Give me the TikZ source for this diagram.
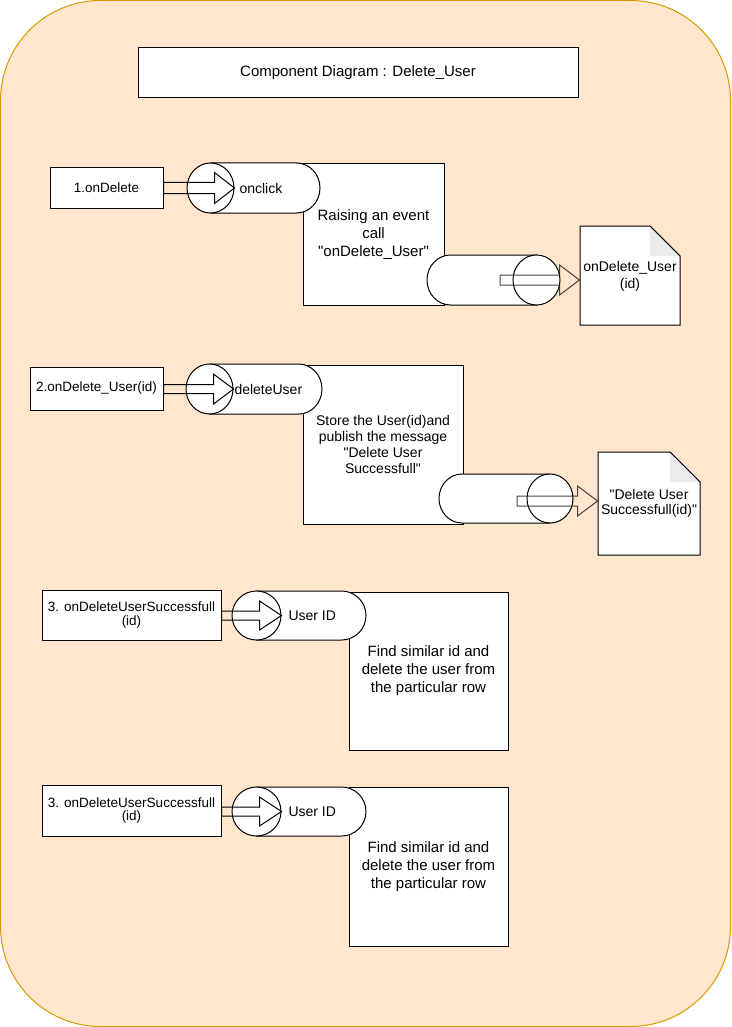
\documentclass[tikz,border=0pt]{standalone}
\usepackage{fontspec}
\setmainfont{Liberation Sans}[Ligatures=TeXOff]
\usetikzlibrary{calc,shapes.geometric}
\definecolor{panelfill}{HTML}{FFE6CC}
\definecolor{panelline}{HTML}{D79B00}
\definecolor{foldfill}{HTML}{EBEBEB}

% block arrow: style, start, tip, shaft half width, head half width, head length
\newcommand{\blockarr}[6]{%
  \draw[#1] ($(#2)+(0,#4)$) -- ($(#3)+(-#6,#4)$) -- ($(#3)+(-#6,#5)$) -- (#3)
    -- ($(#3)+(-#6,-#5)$) -- ($(#3)+(-#6,-#4)$) -- ($(#2)+(0,-#4)$) -- cycle;}

\begin{document}
\begin{tikzpicture}[x=1pt,y=-1pt,line width=1pt,
  box/.style={draw=black,fill=white,align=center,inner sep=2pt},
  cyl/.style={draw=black,fill=white},
  cylend/.style={ellipse,draw=black,fill=white,inner sep=0pt},
  whitearr/.style={draw=black,fill=none,line join=miter},
  greyarr/.style={draw=black,draw opacity=0.72,fill=none,line join=miter},
  doctext/.style={align=center,inner sep=0pt}]
\useasboundingbox (0,0) rectangle (731,1027);

% panel
\draw[fill=panelfill,draw=panelline,rounded corners=100pt] (0.5,0.5) rectangle (730.5,1026.5);

% title
\node[box,minimum width=440pt,minimum height=50pt,font=\fontsize{15}{18}\selectfont] (title) at (358,73) {Component Diagram : Delete\_User};

% ---------- step 1 ----------
\node[box,minimum width=141pt,minimum height=141pt,font=\fontsize{15}{18}\selectfont] (r1) at (373.5,234.5) {Raising an event\\call\\"onDelete\_User"};
\draw[cyl] (210.5,163) -- (296.5,163) arc[start angle=-90,end angle=90,x radius=23.5,y radius=25] -- (210.5,213) -- cycle;
\node[cylend,minimum width=47pt,minimum height=50pt] (c1e) at (210.5,188) {};
\node[anchor=west,inner sep=0pt,font=\fontsize{14}{16}\selectfont] (l1) at (239,188) {onclick};
\node[box,minimum width=113pt,minimum height=40pt,font=\fontsize{13.5}{14}\selectfont] (b1) at (106.5,188) {1.onDelete};
\blockarr{whitearr}{b1.east}{c1e.east}{5.5}{15.5}{20}

\draw[cyl] (536.5,255) -- (450.5,255) arc[start angle=-90,end angle=-270,x radius=23.5,y radius=25] -- (536.5,305) -- cycle;
\node[cylend,minimum width=47pt,minimum height=50pt] (c1f) at (536.5,280) {};

\draw[fill=white] (580,226) -- (650,226) -- (680,256) -- (680,325) -- (580,325) -- cycle;
\fill[foldfill] (650,226.5) -- (650,256) -- (679.5,256) -- cycle;
\draw (650,226) -- (680,256);
\node[doctext,minimum width=100pt,minimum height=99pt,font=\fontsize{14}{17}\selectfont] (d1) at (630,276) {onDelete\_User\\(id)};
\coordinate (g1) at (500,280);
\coordinate (g1t) at (g1 -| d1.west);
\blockarr{greyarr}{g1}{g1t}{5}{15}{20}

% ---------- step 2 ----------
\node[box,minimum width=160pt,minimum height=159pt,font=\fontsize{14}{15.7}\selectfont] (r2) at (383,444.5) {Store the User(id)and\\publish the message\\"Delete User\\Successfull"};
\draw[cyl] (209.5,364) -- (298.5,364) arc[start angle=-90,end angle=90,x radius=23.5,y radius=25] -- (209.5,414) -- cycle;
\node[cylend,minimum width=47pt,minimum height=50pt] (c2e) at (209.5,389) {};
\node[anchor=west,inner sep=0pt,font=\fontsize{14}{16}\selectfont] (l2) at (234,389) {deleteUser};
\node[box,minimum width=133pt,minimum height=43pt,font=\fontsize{13.5}{14}\selectfont] (b2) at (96.5,388.5) {2.onDelete\_User(id)};
\blockarr{whitearr}{b2.east |- c2e.east}{c2e.east}{4.5}{15}{20}

\draw[cyl] (550,474) -- (462,474) arc[start angle=-90,end angle=-270,x radius=23,y radius=24.5] -- (550,523) -- cycle;
\node[cylend,minimum width=46pt,minimum height=49pt] (c2f) at (550,498.5) {};

\draw[fill=white] (598,452) -- (670,452) -- (700,482) -- (700,555) -- (598,555) -- cycle;
\fill[foldfill] (670,452.5) -- (670,482) -- (699.5,482) -- cycle;
\draw (670,452) -- (700,482);
\node[doctext,minimum width=102pt,minimum height=103pt,font=\fontsize{14}{15}\selectfont] (d2) at (649,503.5) {"Delete User\\Successfull(id)"};
\coordinate (g2) at (517,501);
\coordinate (g2t) at (g2 -| d2.west);
\blockarr{greyarr}{g2}{g2t}{5}{15}{20}

% ---------- step 3 ----------
\node[box,minimum width=159pt,minimum height=158pt,font=\fontsize{15}{18}\selectfont] (r3) at (428.5,671) {Find similar id and\\delete the user from\\the particular row};
\draw[cyl] (256.5,591) -- (341.5,591) arc[start angle=-90,end angle=90,x radius=24.5,y radius=24.5] -- (256.5,640) -- cycle;
\node[cylend,minimum width=49pt,minimum height=49pt] (c3e) at (256.5,615.5) {};
\node[anchor=west,inner sep=0pt,font=\fontsize{14}{16}\selectfont] (l3) at (288,615.5) {User ID};
\node[box,minimum width=179pt,minimum height=50pt,font=\fontsize{13.5}{13.5}\selectfont] (b3) at (131.5,615) {3. onDeleteUserSuccessfull\\(id)};
\blockarr{whitearr}{b3.east |- c3e.east}{c3e.east}{4.5}{14.5}{22}

% ---------- step 3 (repeated) ----------
\node[box,minimum width=159pt,minimum height=159pt,font=\fontsize{15}{18}\selectfont] (r4) at (428.5,866.5) {Find similar id and\\delete the user from\\the particular row};
\draw[cyl] (256.5,787) -- (341.5,787) arc[start angle=-90,end angle=90,x radius=24.5,y radius=24.5] -- (256.5,836) -- cycle;
\node[cylend,minimum width=49pt,minimum height=49pt] (c4e) at (256.5,811.5) {};
\node[anchor=west,inner sep=0pt,font=\fontsize{14}{16}\selectfont] (l4) at (288,811.5) {User ID};
\node[box,minimum width=179pt,minimum height=51pt,font=\fontsize{13.5}{13.5}\selectfont] (b4) at (131.5,810.5) {3. onDeleteUserSuccessfull\\(id)};
\blockarr{whitearr}{b4.east |- c4e.east}{c4e.east}{4.5}{14.5}{22}

\end{tikzpicture}
\end{document}
